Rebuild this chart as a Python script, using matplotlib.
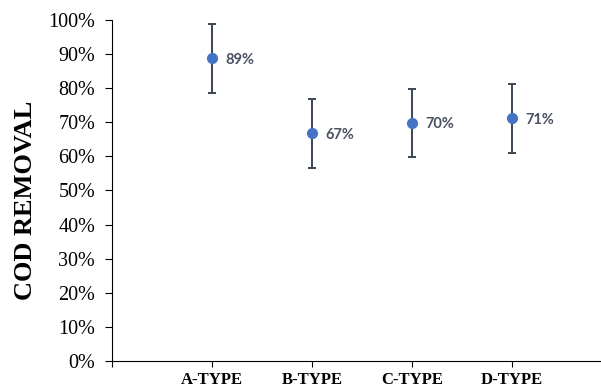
import matplotlib
matplotlib.use('Agg')
import matplotlib.pyplot as plt
from matplotlib.ticker import PercentFormatter

categories = ['A-TYPE', 'B-TYPE', 'C-TYPE', 'D-TYPE']
removal = [0.887, 0.667, 0.698, 0.711]
errors = [0.10, 0.10, 0.10, 0.10]
labels = ['89%', '67%', '70%', '71%']

fig = plt.figure(figsize=(6.01, 3.89), dpi=100)
ax = fig.add_axes([0.186, 0.072, 0.812, 0.877])

x = list(range(1, len(categories) + 1))
ax.errorbar(x, removal, yerr=errors, fmt='o', color='#4472C4', markersize=7,
            ecolor='#3b4454', elinewidth=1.4, capsize=3, capthick=1.4, zorder=3)

for xi, v, lab in zip(x, removal, labels):
    ax.annotate(lab, (xi, v), xytext=(10, -1), textcoords='offset points',
                ha='left', va='center', fontsize=10.5, fontweight='bold',
                color='#4a5163', family=['Lato', 'DejaVu Sans'])

ax.set_ylim(0, 1)
ax.set_xlim(0, 4.88)
ax.set_yticks([i / 10 for i in range(11)])
ax.yaxis.set_major_formatter(PercentFormatter(1.0, decimals=0))
ax.set_xticks([0] + x)
ax.set_xticklabels([''] + categories)

for t in ax.get_yticklabels():
    t.set_family('Liberation Serif')
    t.set_fontsize(14.5)
for t in ax.get_xticklabels():
    t.set_family('Liberation Serif')
    t.set_fontsize(12)
    t.set_fontweight('bold')

ax.tick_params(axis='y', length=5, width=0.8, pad=7)
ax.tick_params(axis='x', length=4, width=0.8, pad=4)
ax.spines['top'].set_visible(False)
ax.spines['right'].set_visible(False)
ax.spines['left'].set_linewidth(0.8)
ax.spines['bottom'].set_linewidth(0.8)

ax.set_ylabel('COD REMOVAL', family='Liberation Serif', fontsize=19,
              fontweight='bold')
ax.yaxis.set_label_coords(-0.153, 0.47)

fig.savefig('out.png', dpi=100)
